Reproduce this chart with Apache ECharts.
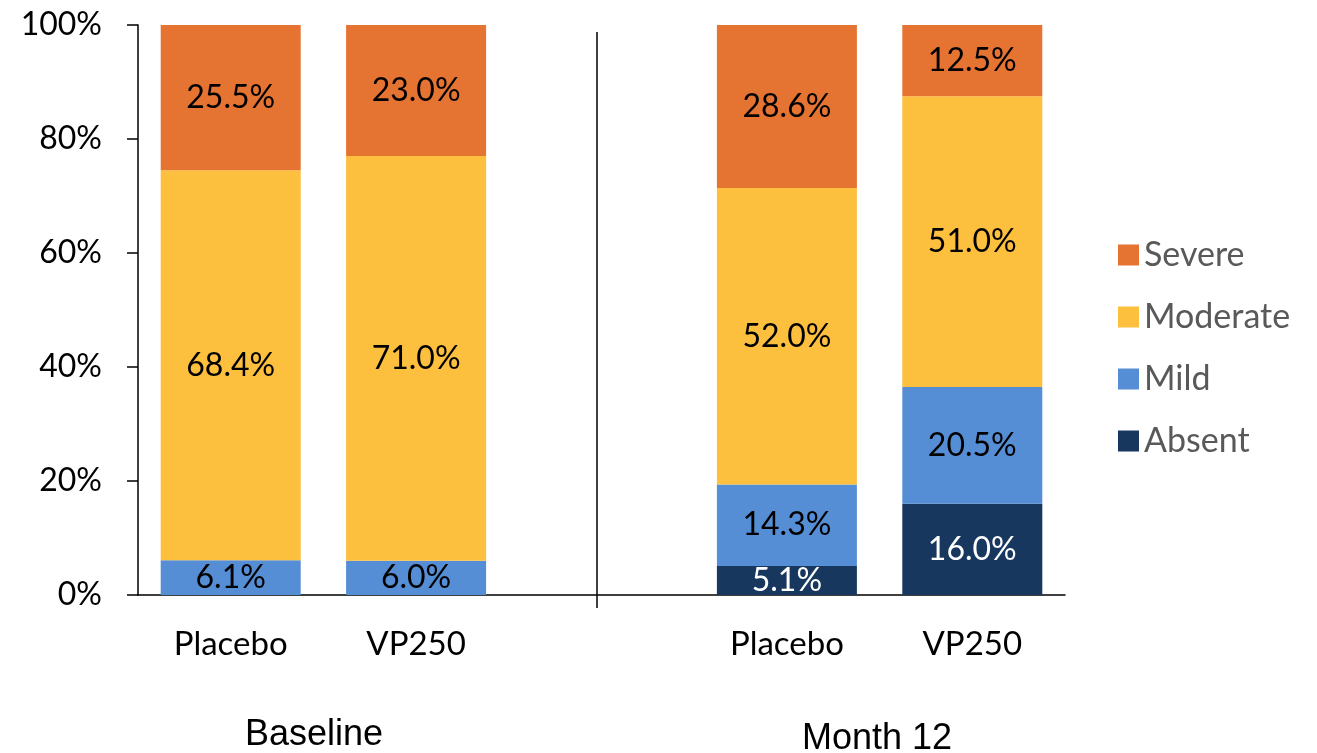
<!DOCTYPE html>
<html><head><meta charset="utf-8">
<script src="https://cdn.jsdelivr.net/npm/echarts@6/dist/echarts.min.js"></script>
<style>html,body{margin:0;padding:0;background:#fff}#c{width:1317px;height:753px}</style>
</head><body><div id="c"></div>
<script>
const categories = ["Placebo", "VP250", "", "Placebo", "VP250"];
const absent   = [null, null, null, 5.1, 16.0];
const mild     = [6.1, 6.0, null, 14.3, 20.5];
const moderate = [68.4, 71.0, null, 52.0, 51.0];
const severe   = [25.5, 23.0, null, 28.6, 12.5];
const groupLabels = ["Baseline", "Month 12"];
const yTicks = [0, 20, 40, 60, 80, 100];

const FONT = 'Lato';
const colors = {Severe:'#E57332', Moderate:'#FDBF3E', Mild:'#558ED5', Absent:'#17375E'};
function mk(name, data, labelColor){
  return {
    name, type:'bar', stack:'s', data, barWidth:140,
    itemStyle:{color:colors[name]},
    label:{show:true, position:'inside', formatter:p=>p.value==null?'':p.value.toFixed(1)+'%',
      color:labelColor, fontFamily:FONT, fontSize:32},
    emphasis:{disabled:true}
  };
}
const chart = echarts.init(document.getElementById('c'));
chart.setOption({
  animation:false,
  grid:{left:138, right:252, top:25, bottom:158, containLabel:false},
  legend:{orient:'vertical', left:1113, top:233, itemWidth:21, itemHeight:21, itemGap:28,
    data:['Severe','Moderate','Mild','Absent'], icon:'rect',
    textStyle:{fontFamily:FONT, fontSize:34, color:'#595959'}},
  xAxis:{type:'category', data:categories,
    axisLine:{lineStyle:{color:'#000', width:1.5}}, axisTick:{show:false},
    axisLabel:{fontFamily:FONT, fontSize:33, color:'#000', margin:33}},
  yAxis:{type:'value', min:0, max:100, interval:20,
    axisLine:{show:true, lineStyle:{color:'#000', width:1.5}},
    axisTick:{show:true, length:11, lineStyle:{color:'#000', width:1.5}},
    splitLine:{show:false},
    axisLabel:{fontFamily:FONT, fontSize:32, color:'#000', margin:36, formatter:v=>yTicks.includes(v)?v+'%':''}},
  series:[
    mk('Absent', absent, '#fff'),
    mk('Mild', mild, '#000'),
    mk('Moderate', moderate, '#000'),
    mk('Severe', severe, '#000')
  ],
  graphic:[
    {type:'line', shape:{x1:597,y1:32,x2:597,y2:608}, style:{stroke:'#000', lineWidth:1.5}},
    {type:'text', x:314, y:735, style:{text:groupLabels[0], font:'36px "Liberation Sans", Arial', fill:'#000', textAlign:'center', textVerticalAlign:'middle'}},
    {type:'text', x:877, y:739, style:{text:groupLabels[1], font:'36px "Liberation Sans", Arial', fill:'#000', textAlign:'center', textVerticalAlign:'middle'}}
  ]
});
</script></body></html>
